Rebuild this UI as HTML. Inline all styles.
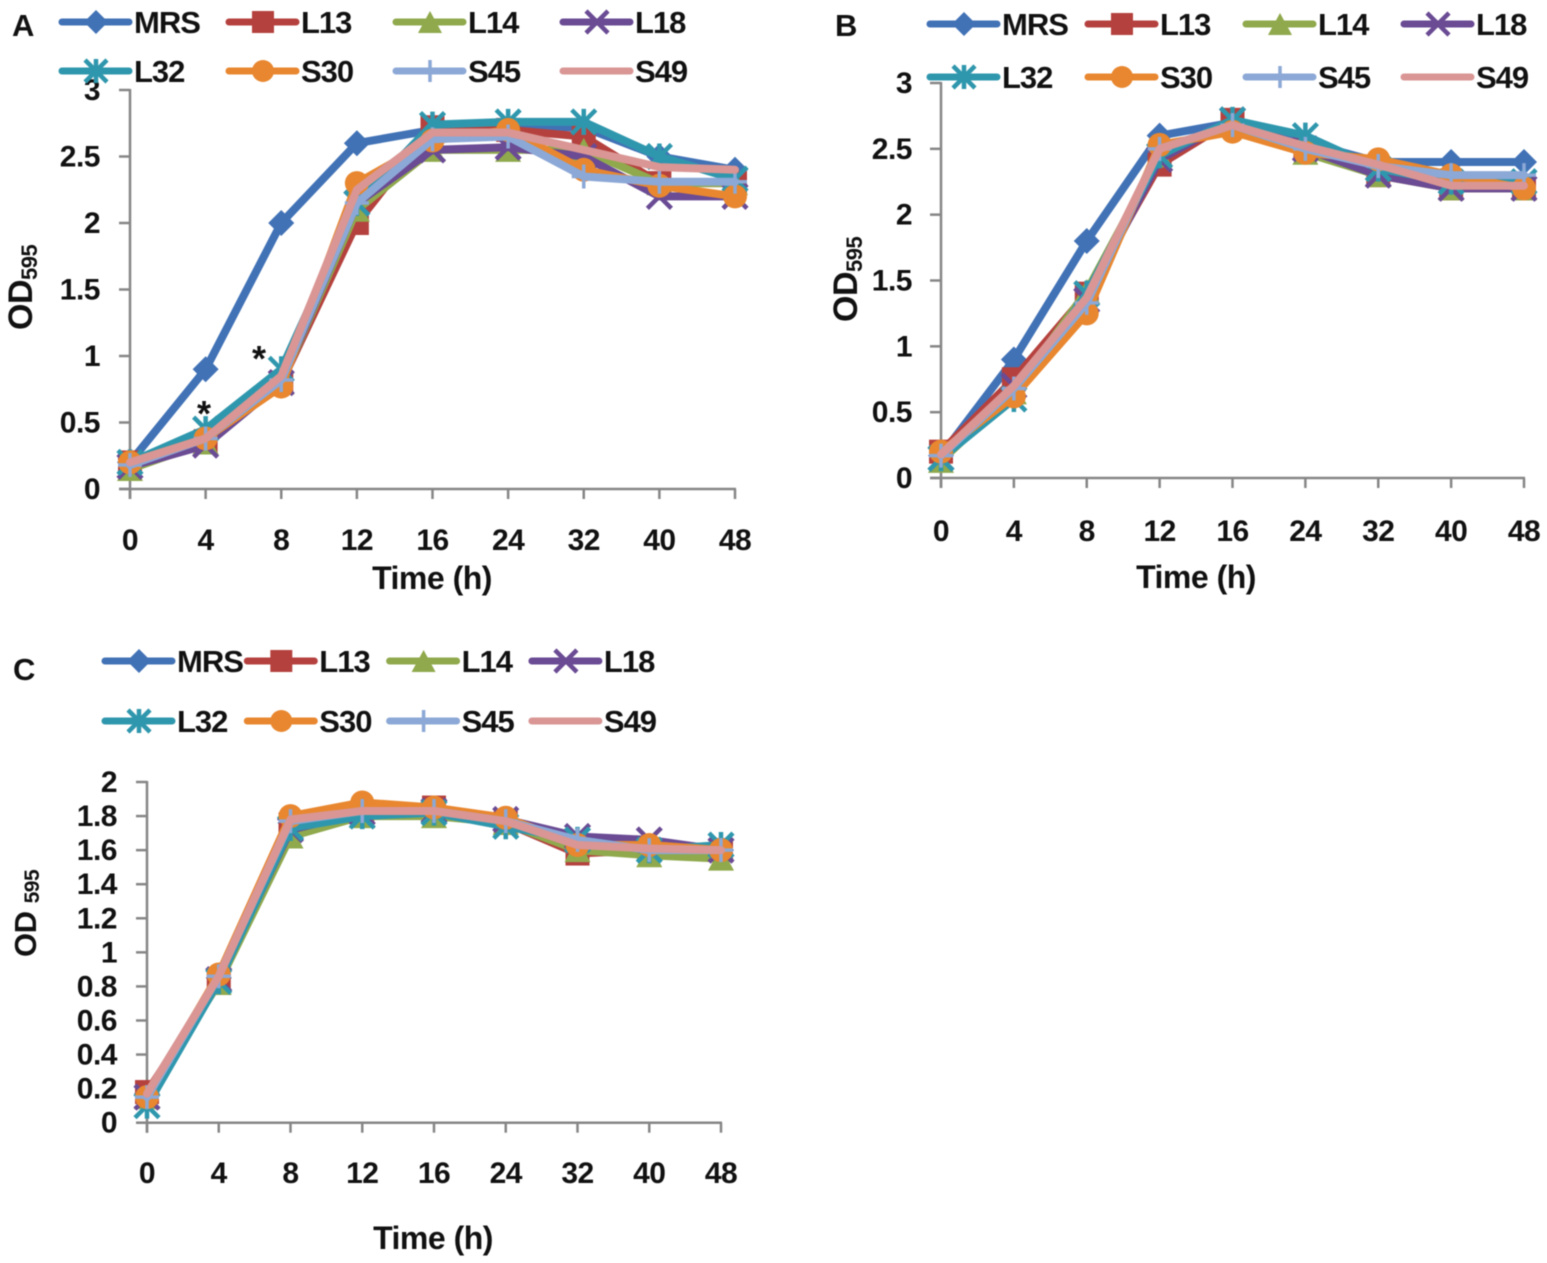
<!DOCTYPE html>
<html lang="en">
<head>
<meta charset="utf-8">
<title>Growth curves OD595</title>
<style>
html,body{margin:0;padding:0;background:#fff;}
#figure{display:block;width:1547px;height:1263px;font-family:"Liberation Sans",sans-serif;filter:blur(0.5px);}
text{fill:#111;font-weight:bold;font-family:"Liberation Sans",sans-serif;}
</style>
</head>
<body>
<svg id="figure" xmlns="http://www.w3.org/2000/svg" width="1547" height="1263" viewBox="0 0 1547 1263">
  <rect width="1547" height="1263" fill="#fff"/>
  <text x="12" y="36" font-size="31">A</text>
  <text x="835" y="36" font-size="31">B</text>
  <text x="13" y="680" font-size="31">C</text>
  <g id="panel-a"></g>
  <g id="panel-b"></g>
  <g id="panel-c"></g>
  <text x="204" y="426" font-size="36" text-anchor="middle">*</text>
  <text x="259" y="371" font-size="36" text-anchor="middle">*</text>
  <text x="432" y="589" font-size="32" letter-spacing="-0.5" text-anchor="middle">Time (h)</text>
  <text x="1196" y="588" font-size="32" letter-spacing="-0.5" text-anchor="middle">Time (h)</text>
  <text x="433" y="1249" font-size="32" letter-spacing="-0.5" text-anchor="middle">Time (h)</text>
  <text transform="translate(32,330) rotate(-90)" font-size="34" letter-spacing="-0.5">OD<tspan font-size="22" dy="5">595</tspan></text>
  <text transform="translate(857,322) rotate(-90)" font-size="34" letter-spacing="-0.5">OD<tspan font-size="22" dy="5">595</tspan></text>
  <text transform="translate(36,957) rotate(-90)" font-size="31" letter-spacing="-0.5">OD <tspan font-size="21" dy="3">595</tspan></text>
</svg>
<script>
const categories = ["0", "4", "8", "12", "16", "24", "32", "40", "48"];
const seriesNames = ["MRS", "L13", "L14", "L18", "L32", "S30", "S45", "S49"];
const ticksAB = ["0", "0.5", "1", "1.5", "2", "2.5", "3"];
const ticksC = ["0", "0.2", "0.4", "0.6", "0.8", "1", "1.2", "1.4", "1.6", "1.8", "2"];

const panelA_MRS = [0.2, 0.9, 2.0, 2.6, 2.7, 2.72, 2.72, 2.5, 2.4];
const panelA_L13 = [0.2, 0.36, 0.8, 2.0, 2.72, 2.7, 2.65, 2.3, 2.3];
const panelA_L14 = [0.15, 0.35, 0.8, 2.1, 2.55, 2.55, 2.55, 2.3, 2.3];
const panelA_L18 = [0.17, 0.33, 0.8, 2.15, 2.55, 2.57, 2.5, 2.2, 2.2];
const panelA_L32 = [0.2, 0.45, 0.9, 2.15, 2.74, 2.76, 2.76, 2.5, 2.33];
const panelA_S30 = [0.2, 0.38, 0.77, 2.3, 2.62, 2.7, 2.4, 2.28, 2.2];
const panelA_S45 = [0.18, 0.38, 0.82, 2.15, 2.63, 2.65, 2.35, 2.31, 2.31];
const panelA_S49 = [0.2, 0.38, 0.85, 2.25, 2.68, 2.68, 2.55, 2.42, 2.4];

const panelB_MRS = [0.17, 0.9, 1.8, 2.6, 2.7, 2.55, 2.4, 2.4, 2.4];
const panelB_L13 = [0.2, 0.75, 1.4, 2.38, 2.72, 2.5, 2.3, 2.2, 2.2];
const panelB_L14 = [0.13, 0.65, 1.42, 2.45, 2.7, 2.47, 2.3, 2.2, 2.2];
const panelB_L18 = [0.15, 0.7, 1.35, 2.42, 2.72, 2.5, 2.3, 2.2, 2.2];
const panelB_L32 = [0.15, 0.6, 1.4, 2.45, 2.72, 2.6, 2.35, 2.25, 2.25];
const panelB_S30 = [0.2, 0.62, 1.25, 2.53, 2.63, 2.47, 2.42, 2.3, 2.2];
const panelB_S45 = [0.17, 0.68, 1.33, 2.5, 2.68, 2.5, 2.37, 2.3, 2.3];
const panelB_S49 = [0.18, 0.7, 1.37, 2.5, 2.68, 2.52, 2.38, 2.22, 2.22];

const panelC_MRS = [0.17, 0.85, 1.76, 1.82, 1.82, 1.77, 1.62, 1.6, 1.6];
const panelC_L13 = [0.18, 0.82, 1.75, 1.82, 1.85, 1.76, 1.58, 1.6, 1.6];
const panelC_L14 = [0.15, 0.82, 1.68, 1.8, 1.8, 1.76, 1.6, 1.57, 1.55];
const panelC_L18 = [0.15, 0.84, 1.72, 1.82, 1.83, 1.78, 1.68, 1.66, 1.6];
const panelC_L32 = [0.1, 0.83, 1.73, 1.8, 1.82, 1.74, 1.66, 1.6, 1.63];
const panelC_S30 = [0.15, 0.87, 1.8, 1.88, 1.85, 1.79, 1.63, 1.63, 1.6];
const panelC_S45 = [0.15, 0.86, 1.77, 1.83, 1.83, 1.77, 1.66, 1.6, 1.6];
const panelC_S49 = [0.17, 0.86, 1.78, 1.83, 1.83, 1.77, 1.63, 1.61, 1.6];

const seriesColors = ["#4172b6", "#b5413e", "#8fa94c", "#6a4b94", "#2f97ad", "#e8872f", "#8ca8d6", "#d99694"];
const seriesShapes = ["diamond", "square", "triangle", "cross", "star", "circle", "plus", "none"];
const NS = "http://www.w3.org/2000/svg";

function make(tag, attrs, parent) {
  const el = document.createElementNS(NS, tag);
  for (const k in attrs) el.setAttribute(k, attrs[k]);
  parent.appendChild(el);
  return el;
}

function drawMarker(parent, shape, x, y, color, r) {
  const g = make("g", { transform: "translate(" + x + "," + y + ")" }, parent);
  if (shape === "diamond") {
    make("polygon", { points: "0," + (-r - 1) + " " + (r + 1) + ",0 0," + (r + 1) + " " + (-r - 1) + ",0", fill: color }, g);
  } else if (shape === "square") {
    make("rect", { x: -r, y: -r, width: 2 * r, height: 2 * r, fill: color }, g);
  } else if (shape === "triangle") {
    make("polygon", { points: "0," + (-r) + " " + (r + 1) + "," + r + " " + (-r - 1) + "," + r, fill: color }, g);
  } else if (shape === "cross") {
    make("path", { d: "M" + (-r) + "," + (-r) + "L" + r + "," + r + "M" + r + "," + (-r) + "L" + (-r) + "," + r, stroke: color, "stroke-width": 4.5, fill: "none" }, g);
  } else if (shape === "star") {
    make("path", { d: "M" + (-r) + "," + (-r) + "L" + r + "," + r + "M" + r + "," + (-r) + "L" + (-r) + "," + r + "M0," + (-r - 1) + "L0," + (r + 1), stroke: color, "stroke-width": 4.5, fill: "none" }, g);
  } else if (shape === "circle") {
    make("circle", { cx: 0, cy: 0, r: r, fill: color }, g);
  } else if (shape === "plus") {
    make("path", { d: "M0," + (-r) + "L0," + r + "M" + (-r) + ",0L" + r + ",0", stroke: color, "stroke-width": 3.5, fill: "none" }, g);
  }
  return g;
}

function drawChart(root, prefix, seriesValues, tickLabels, yMax, box, legendBox) {
  const xOf = function (i) { return box.x0 + i * (box.x1 - box.x0) / (categories.length - 1); };
  const yOf = function (v) { return box.y0 + (box.y1 - box.y0) * v / yMax; };
  const axisColor = "#868686";

  const yAxis = make("line", { x1: box.x0, x2: box.x0, y1: yOf(0) + 10, y2: yOf(yMax) - 1, stroke: axisColor, "stroke-width": 2.5 }, root);
  
  
  const xAxis = make("line", { x1: box.x0 - 11, x2: box.x1 + 1, y1: yOf(0), y2: yOf(0), stroke: axisColor, "stroke-width": 2.5 }, root);
  
  

  tickLabels.forEach(function (label) {
    const v = parseFloat(label);
    const tick = make("line", { x1: box.x0 - 11, x2: box.x0, y1: yOf(v), y2: yOf(v), stroke: axisColor, "stroke-width": 2.5 }, root);
    
    
    const t = make("text", { x: box.yLabelX, y: yOf(v) + box.yLabelDy, "font-size": 30, "letter-spacing": -0.5, "text-anchor": "end" }, root);
    
    
    t.textContent = label;
  });

  categories.forEach(function (label, i) {
    const tick = make("line", { x1: xOf(i), x2: xOf(i), y1: yOf(0), y2: yOf(0) + 10, stroke: axisColor, "stroke-width": 2.5 }, root);
    
    
    const t = make("text", { x: xOf(i), y: box.xLabelY, "font-size": 30, "letter-spacing": -0.5, "text-anchor": "middle" }, root);
    
    
    t.textContent = label;
  });

  seriesValues.forEach(function (values, s) {
    const g = make("g", {}, root);
    
    
    const pts = values.map(function (v, i) { return xOf(i) + "," + yOf(v); }).join(" ");
    const line = make("polyline", { points: pts, fill: "none", stroke: seriesColors[s], "stroke-width": 8, "stroke-linejoin": "round", "stroke-linecap": "round" }, g);
    
    
    values.forEach(function (v, i) {
      const m = drawMarker(g, seriesShapes[s], xOf(i), yOf(v), seriesColors[s], 12);
      
      
    });
  });

  seriesNames.forEach(function (name, s) {
    const col = s % 4;
    const rowY = s < 4 ? legendBox.row1 : legendBox.row2;
    const lx = legendBox.x + col * legendBox.step;
    const g = make("g", {}, root);
    
    
    make("line", { x1: lx, x2: lx + 67, y1: rowY, y2: rowY, stroke: seriesColors[s], "stroke-width": 7, "stroke-linecap": "round" }, g);
    drawMarker(g, seriesShapes[s], lx + 34, rowY, seriesColors[s], 11);
    const t = make("text", { x: lx + 72, y: rowY + 11, "font-size": 31, "letter-spacing": -1 }, g);
    
    
    t.textContent = name;
  });
}

drawChart(document.getElementById("panel-a"), "panel-a",
  [panelA_MRS, panelA_L13, panelA_L14, panelA_L18, panelA_L32, panelA_S30, panelA_S45, panelA_S49],
  ticksAB, 3,
  { x0: 130, x1: 735, y0: 489, y1: 90, yLabelX: 100, yLabelDy: 10, xLabelY: 550 },
  { x: 62, step: 167, row1: 22, row2: 71 });

drawChart(document.getElementById("panel-b"), "panel-b",
  [panelB_MRS, panelB_L13, panelB_L14, panelB_L18, panelB_L32, panelB_S30, panelB_S45, panelB_S49],
  ticksAB, 3,
  { x0: 941, x1: 1524, y0: 478, y1: 83, yLabelX: 912, yLabelDy: 10, xLabelY: 541 },
  { x: 930, step: 158, row1: 24, row2: 77 });

drawChart(document.getElementById("panel-c"), "panel-c",
  [panelC_MRS, panelC_L13, panelC_L14, panelC_L18, panelC_L32, panelC_S30, panelC_S45, panelC_S49],
  ticksC, 2,
  { x0: 147, x1: 721, y0: 1122.7, y1: 782, yLabelX: 117, yLabelDy: 10, xLabelY: 1183 },
  { x: 105, step: 142.3, row1: 661, row2: 721 });
</script>
</body>
</html>
